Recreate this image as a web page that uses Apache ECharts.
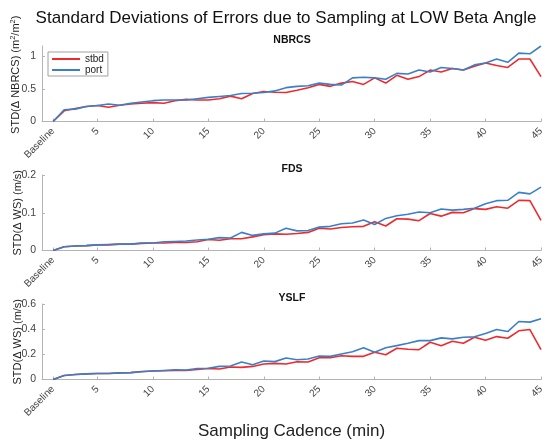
<!DOCTYPE html>
<html>
<head>
<meta charset="utf-8">
<script src="https://cdn.jsdelivr.net/npm/echarts@6/dist/echarts.min.js"></script>
<style>html,body{margin:0;padding:0;background:#fff;}#chart{width:546px;height:440px;}</style>
</head>
<body>
<div id="chart"></div>
<script>
// Sampling cadence (min); 1 = Baseline
const cadence = [1,2,3,4,5,6,7,8,9,10,11,12,13,14,15,16,17,18,19,20,21,22,23,24,25,26,27,28,29,30,31,32,33,34,35,36,37,38,39,40,41,42,43,44,45];
const xTickValues = [1,5,10,15,20,25,30,35,40,45];
const xTickLabels = ['Baseline','5','10','15','20','25','30','35','40','45'];

const nbrcsStbd = [0,0.164,0.20,0.23,0.246,0.22,0.25,0.27,0.28,0.29,0.28,0.32,0.34,0.33,0.33,0.35,0.39,0.35,0.43,0.46,0.45,0.446,0.48,0.52,0.57,0.54,0.59,0.615,0.57,0.67,0.59,0.71,0.65,0.69,0.79,0.76,0.815,0.79,0.85,0.90,0.86,0.83,0.96,0.96,0.69];
const nbrcsPort = [0,0.18,0.19,0.23,0.246,0.27,0.25,0.28,0.30,0.32,0.33,0.33,0.33,0.35,0.37,0.385,0.40,0.43,0.435,0.445,0.47,0.52,0.54,0.55,0.59,0.57,0.56,0.67,0.68,0.67,0.65,0.74,0.73,0.79,0.76,0.83,0.815,0.79,0.87,0.90,0.96,0.91,1.05,1.04,1.16];
const fdsStbd = [0,0.01,0.012,0.013,0.015,0.015,0.017,0.017,0.019,0.02,0.02,0.021,0.021,0.023,0.029,0.027,0.031,0.031,0.036,0.042,0.044,0.043,0.045,0.048,0.059,0.057,0.061,0.063,0.064,0.076,0.065,0.084,0.083,0.079,0.098,0.091,0.101,0.1,0.111,0.109,0.116,0.112,0.133,0.132,0.08];
const fdsPort = [0,0.01,0.012,0.013,0.015,0.016,0.017,0.017,0.02,0.02,0.023,0.024,0.025,0.028,0.03,0.034,0.033,0.048,0.04,0.044,0.046,0.059,0.052,0.053,0.062,0.064,0.071,0.073,0.081,0.069,0.085,0.092,0.096,0.102,0.10,0.11,0.107,0.109,0.112,0.124,0.132,0.133,0.154,0.15,0.168];
const yslfStbd = [0,0.032,0.04,0.045,0.048,0.048,0.053,0.055,0.064,0.067,0.069,0.072,0.072,0.08,0.088,0.083,0.099,0.096,0.104,0.123,0.128,0.123,0.141,0.139,0.173,0.173,0.189,0.184,0.184,0.216,0.197,0.248,0.24,0.237,0.296,0.269,0.304,0.288,0.336,0.312,0.341,0.328,0.387,0.397,0.237];
const yslfPort = [0,0.032,0.04,0.045,0.048,0.048,0.053,0.055,0.062,0.067,0.072,0.077,0.075,0.088,0.09,0.104,0.107,0.139,0.117,0.147,0.142,0.171,0.157,0.163,0.187,0.184,0.203,0.221,0.253,0.216,0.253,0.269,0.288,0.309,0.309,0.331,0.323,0.336,0.339,0.365,0.397,0.381,0.461,0.456,0.483];

const panelTitles = ['NBRCS','FDS','YSLF'];
const yNames = ['STD(\u0394 NBRCS) (m{sup|2}/m{sup|2})','STD(\u0394 WS) (m/s)','STD(\u0394 WS) (m/s)'];
const yMax = [1.16, 0.2, 0.6];
const yTickValues = [[0,0.5,1],[0,0.1,0.2],[0,0.2,0.4,0.6]];
const yTickLabels = [['0','0.5','1'],['0','0.1','0.2'],['0','0.2','0.4','0.6']];
const stbdSets = [nbrcsStbd, fdsStbd, yslfStbd];
const portSets = [nbrcsPort, fdsPort, yslfPort];

const FONT = "'Liberation Sans', Arial, Helvetica, sans-serif";
const RED = '#ee2a2e';
const BLUE = '#3b80c6';
const AXIS = '#b4b4b4';
const TXT = '#444';

const gridTops = [46, 175, 304];
const namePad = [[0, 0, 0, 18], 0, 0];
const grids = gridTops.map(t => ({left: 42, right: 5, top: t, height: 75.5, containLabel: false, outerBoundsMode: 'none'}));

const xAxes = grids.map((g, i) => ({
  type: 'value', gridIndex: i, min: 0, max: 45,
  name: i === 2 ? 'Sampling Cadence (min)' : '',
  nameLocation: 'middle', nameGap: 43, nameMoveOverlap: false,
  nameTextStyle: {fontFamily: FONT, fontSize: 17, color: '#222'},
  axisLine: {show: true, lineStyle: {color: AXIS, width: 1}},
  axisTick: {show: true, inside: true, length: 3, lineStyle: {color: AXIS}, customValues: xTickValues},
  splitLine: {show: false},
  axisLabel: {
    show: true, rotate: 45, margin: 8, fontFamily: FONT, fontSize: 10, color: TXT,
    customValues: xTickValues,
    formatter: v => xTickLabels[xTickValues.indexOf(v)] || ''
  }
}));

const yAxes = grids.map((g, i) => ({
  type: 'value', gridIndex: i, min: 0, max: yMax[i],
  name: yNames[i], nameLocation: 'middle', nameGap: 19, nameRotate: 90, nameMoveOverlap: false,
  nameTextStyle: {fontFamily: FONT, fontSize: 11, color: '#222', padding: namePad[i],
    rich: {sup: {fontFamily: FONT, fontSize: 7.5, color: '#222', padding: [0, 0, 6, 0]}}},
  axisLine: {show: true, lineStyle: {color: AXIS, width: 1}},
  axisTick: {show: true, inside: true, length: 3, lineStyle: {color: AXIS}, customValues: yTickValues[i]},
  splitLine: {show: false},
  axisLabel: {
    show: true, margin: 6, fontFamily: FONT, fontSize: 10.5, color: TXT,
    customValues: yTickValues[i],
    formatter: v => {
      const k = yTickValues[i].findIndex(t => Math.abs(t - v) < 1e-9);
      return k >= 0 ? yTickLabels[i][k] : '';
    }
  }
}));

const series = [];
for (let i = 0; i < 3; i++) {
  series.push({
    name: 'stbd', type: 'line', xAxisIndex: i, yAxisIndex: i,
    data: cadence.map((c, k) => [c, stbdSets[i][k]]),
    symbol: 'none', lineStyle: {color: RED, width: 1.6}, itemStyle: {color: RED},
    animation: false, z: 2
  });
  series.push({
    name: 'port', type: 'line', xAxisIndex: i, yAxisIndex: i,
    data: cadence.map((c, k) => [c, portSets[i][k]]),
    symbol: 'none', lineStyle: {color: BLUE, width: 1.6}, itemStyle: {color: BLUE},
    animation: false, z: 3
  });
}

const titles = [{
  text: 'Standard Deviations of Errors due to Sampling at LOW Beta Angle',
  left: 281, top: 5, textAlign: 'center',
  textStyle: {fontFamily: FONT, fontSize: 17, fontWeight: 'normal', color: '#111'}
}];
panelTitles.forEach((t, i) => titles.push({
  text: t, left: 292, top: gridTops[i] - 11, textAlign: 'center', padding: 0,
  textStyle: {fontFamily: FONT, fontSize: 10.5, fontWeight: 'bold', color: '#111'}
}));

const chart = echarts.init(document.getElementById('chart'), null, {renderer: 'canvas'});
chart.setOption({
  backgroundColor: '#fff',
  animation: false,
  title: titles,
  legend: {
    data: ['stbd', 'port'], orient: 'vertical', left: 48, top: 52,
    icon: 'rect', itemWidth: 28, itemHeight: 2, itemGap: 1, padding: [2, 4, 1, 4],
    borderColor: '#a0a0a0', borderWidth: 1, backgroundColor: '#fff',
    textStyle: {fontFamily: FONT, fontSize: 10, lineHeight: 10, color: '#222'}
  },
  grid: grids,
  xAxis: xAxes,
  yAxis: yAxes,
  series: series
});
</script>
</body>
</html>
